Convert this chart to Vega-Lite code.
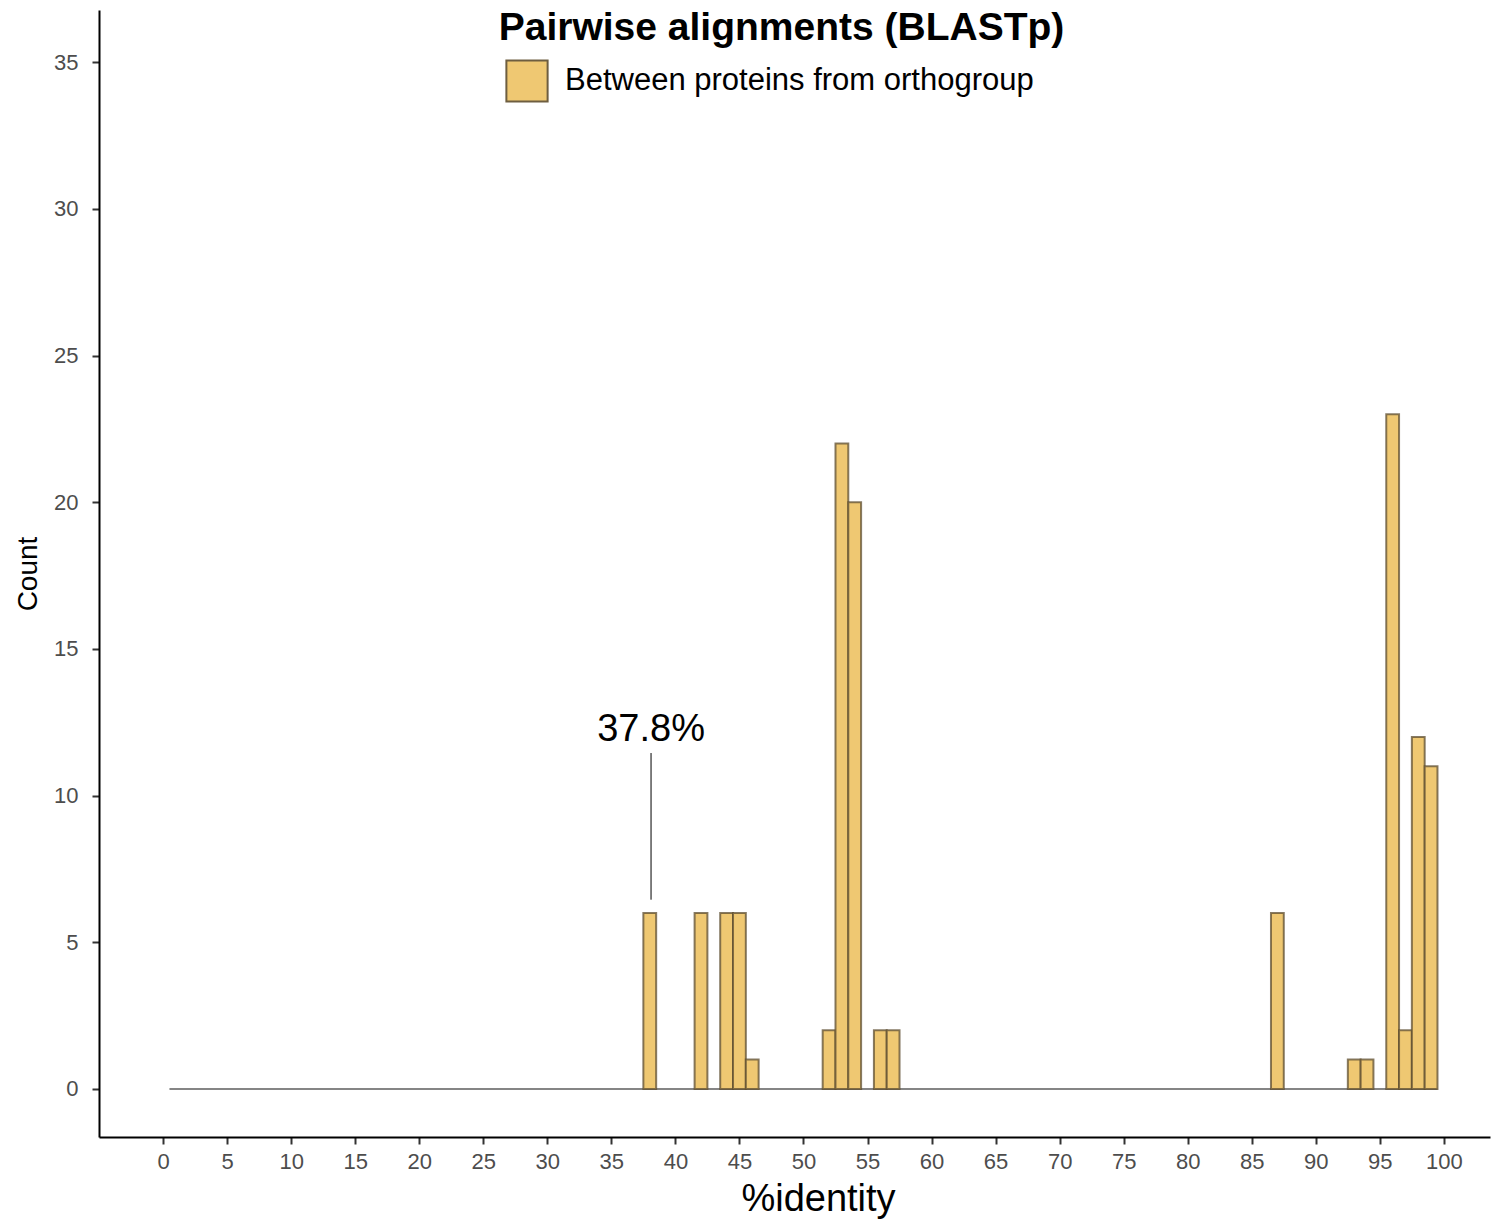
{
  "$schema": "https://vega.github.io/schema/vega-lite/v6.json",
  "width": 1391,
  "height": 1127,
  "autosize": "none",
  "padding": {"left": 99, "top": 10, "right": 5, "bottom": 84},
  "background": "white",
  "config": {
    "view": {"stroke": null},
    "font": "Liberation Sans",
    "axis": {"grid": false, "domainColor": "black", "domainWidth": 2, "tickColor": "#333333", "tickWidth": 2, "tickSize": 7, "labelColor": "#4d4d4d", "labelFontSize": 22, "labelFont": "Liberation Sans", "titleFont": "Liberation Sans", "titleFontWeight": "normal", "titleColor": "black"}
  },
  "title": {"text": "Pairwise alignments (BLASTp)", "fontSize": 39, "fontWeight": "bold", "font": "Liberation Sans", "anchor": "middle", "frame": "group", "offset": -38, "dx": -13, "color": "black"},
  "datasets": {
    "bars": [
      {"start": 37.5, "end": 38.5, "count": 6},
      {"start": 41.5, "end": 42.5, "count": 6},
      {"start": 43.5, "end": 44.5, "count": 6},
      {"start": 44.5, "end": 45.5, "count": 6},
      {"start": 45.5, "end": 46.5, "count": 1},
      {"start": 51.5, "end": 52.5, "count": 2},
      {"start": 52.5, "end": 53.5, "count": 22},
      {"start": 53.5, "end": 54.5, "count": 20},
      {"start": 55.5, "end": 56.5, "count": 2},
      {"start": 56.5, "end": 57.5, "count": 2},
      {"start": 86.5, "end": 87.5, "count": 6},
      {"start": 92.5, "end": 93.5, "count": 1},
      {"start": 93.5, "end": 94.5, "count": 1},
      {"start": 95.5, "end": 96.5, "count": 23},
      {"start": 96.5, "end": 97.5, "count": 2},
      {"start": 97.5, "end": 98.5, "count": 12},
      {"start": 98.5, "end": 99.5, "count": 11}
    ],
    "base": [{"start": 0.5, "end": 99.5, "count": 0}],
    "note": [{"x": 38.1, "y1": 6.45, "y2": 11.45, "label": "37.8%", "ty": 11.85}]
  },
  "layer": [
    {
      "data": {"name": "base"},
      "mark": {"type": "rule", "color": "#858585", "strokeWidth": 2},
      "encoding": {
        "x": {"field": "start", "type": "quantitative", "scale": {"domain": [-5, 103.6], "nice": false, "zero": false},
          "axis": {"values": [0,5,10,15,20,25,30,35,40,45,50,55,60,65,70,75,80,85,90,95,100], "title": "%identity", "titleFontSize": 38, "titlePadding": 8, "labelPadding": 7, "titleX": 719, "titleAlign": "center", "titleAnchor": "start"}},
        "x2": {"field": "end"},
        "y": {"field": "count", "type": "quantitative", "scale": {"domain": [-1.64, 36.78], "nice": false, "zero": false},
          "axis": {"values": [0,5,10,15,20,25,30,35], "title": "Count", "titleFontSize": 28, "titlePadding": 11, "labelPadding": 14}}
      }
    },
    {
      "data": {"name": "bars"},
      "mark": {"type": "rect", "stroke": "#5e4e30", "strokeOpacity": 0.75, "strokeWidth": 2, "opacity": 1},
      "encoding": {
        "x": {"field": "start", "type": "quantitative"},
        "x2": {"field": "end"},
        "y": {"field": "count", "type": "quantitative"},
        "y2": {"datum": 0},
        "color": {"datum": "Between proteins from orthogroup", "type": "nominal",
          "scale": {"range": ["#EFC872"]},
          "legend": {"title": null, "orient": "none", "legendX": 406, "legendY": 49, "symbolType": "square", "symbolSize": 1700, "symbolStrokeColor": "#6e5e40", "symbolStrokeWidth": 2, "symbolOpacity": 1, "labelFontSize": 31, "labelFont": "Liberation Sans", "labelColor": "black", "labelOffset": 16, "labelLimit": 0}}
      }
    },
    {
      "data": {"name": "note"},
      "mark": {"type": "rule", "color": "black", "strokeWidth": 1},
      "encoding": {
        "x": {"field": "x", "type": "quantitative"},
        "y": {"field": "y1", "type": "quantitative"},
        "y2": {"field": "y2"}
      }
    },
    {
      "data": {"name": "note"},
      "mark": {"type": "text", "fontSize": 38, "font": "Liberation Sans", "align": "center", "baseline": "alphabetic", "color": "black"},
      "encoding": {
        "x": {"field": "x", "type": "quantitative"},
        "y": {"field": "ty", "type": "quantitative"},
        "text": {"field": "label"}
      }
    }
  ]
}
